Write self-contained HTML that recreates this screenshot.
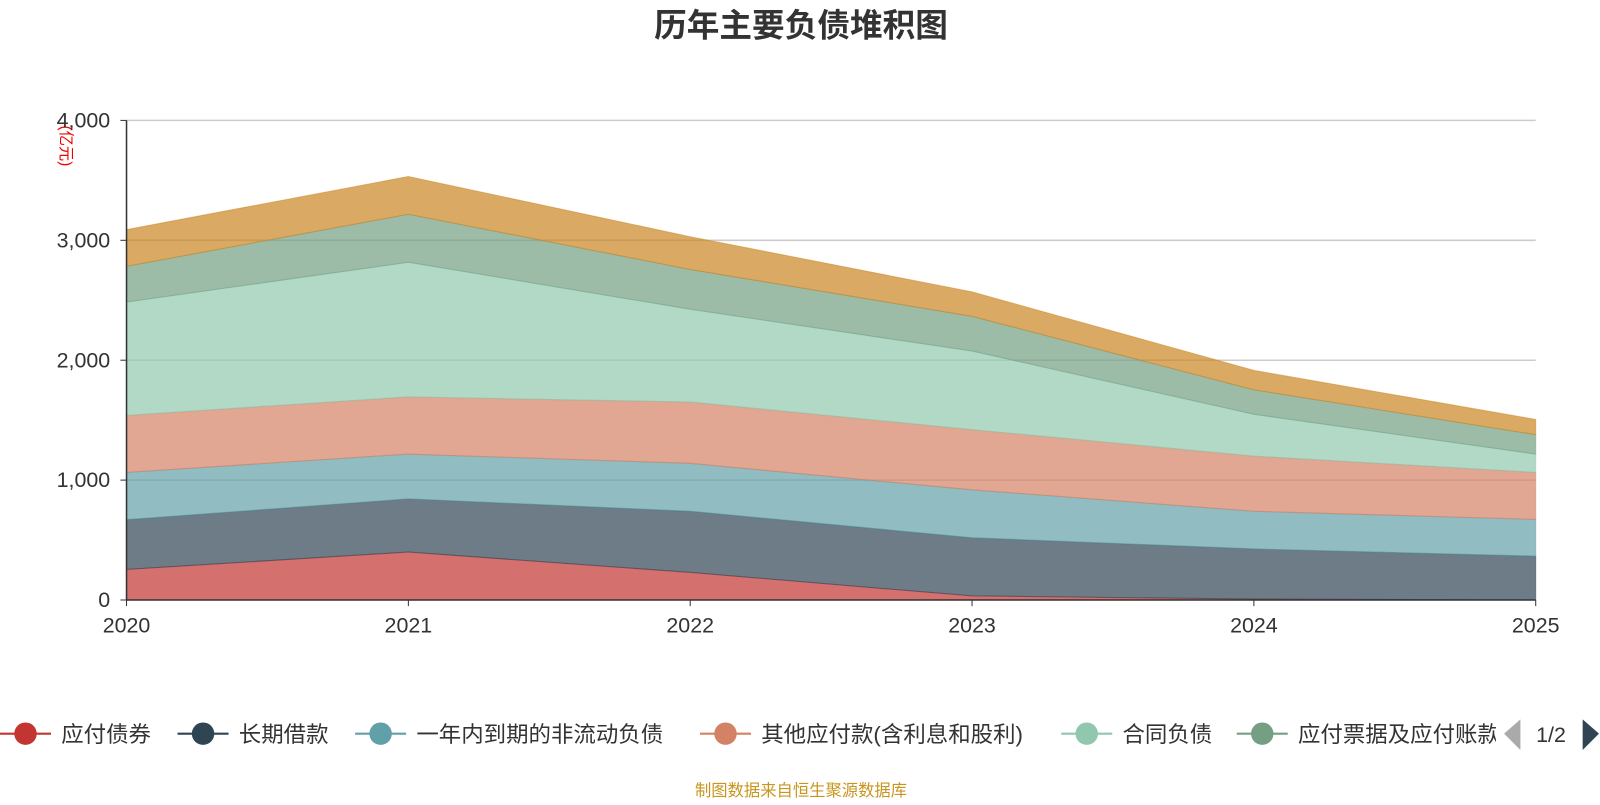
<!DOCTYPE html>
<html><head><meta charset="utf-8"><style>
body{margin:0;background:#fff;}
svg text{font-family:"Liberation Sans","Noto Sans CJK SC",sans-serif;}
</style></head><body>
<svg id="chart" width="1600" height="800" viewBox="0 0 1568 784" xmlns="http://www.w3.org/2000/svg">
<text x="785" y="36" text-anchor="middle" font-size="32" font-weight="bold" fill="#333">历年主要负债堆积图</text>
<text transform="translate(60,143) rotate(90)" text-anchor="middle" font-size="15" fill="#e00">(亿元)</text>
<g id="grid"></g><g id="areas"></g><g id="axes"></g>
<g id="legend"></g>
<text x="785" y="780" text-anchor="middle" font-size="16" fill="#c8961e">制图数据来自恒生聚源数据库</text>
</svg>
<script>
const years = ["2020","2021","2022","2023","2024","2025"];
const seriesNames = ["应付债券","长期借款","一年内到期的非流动负债","其他应付款(含利息和股利)","合同负债","应付票据及应付账款","其他负债"];
const bonds = [255,400,230,34,8,0];
const longLoans = [415,443,510,485,418,366];
const currentNonCurrent = [394,374,400,400,314,306];
const otherPayables = [476,477,511,502,460,392];
const contractLiab = [945,1123,774,656,349,153];
const billsPayables = [298,400,332,289,204,162];
const topSeries = [306,315,273,204,162,127];
const yTicks = [0,1000,2000,3000,4000];
const yTickLabels = ["0","1,000","2,000","3,000","4,000"];
const colors = ["#c23531","#2f4554","#61a0a8","#d48265","#91c7ae","#749f83","#ca8622"];
const seriesData = [bonds,longLoans,currentNonCurrent,otherPayables,contractLiab,billsPayables,topSeries];
const X0=124,X1=1505,Y0=588,Y1=118,YMAX=4000;
const xs=i=>X0+(X1-X0)*i/(years.length-1);
const ys=v=>Y0-(Y0-Y1)*v/YMAX;
const NS="http://www.w3.org/2000/svg";
function mk(tag,attrs,parent){const e=document.createElementNS(NS,tag);for(const k in attrs)e.setAttribute(k,attrs[k]);parent.appendChild(e);return e;}
const grid=document.getElementById('grid'),areas=document.getElementById('areas'),axes=document.getElementById('axes'),legend=document.getElementById('legend');
yTicks.forEach((t,i)=>{
  if(t>0){const l=mk('line',{x1:X0,x2:X1,y1:ys(t),y2:ys(t),stroke:'#ccc','stroke-width':1.5},grid);
  
  }
  const tk=mk('line',{x1:X0-6,x2:X0,y1:ys(t),y2:ys(t),stroke:'#333'},axes);
  
  
  const tx=mk('text',{x:X0-16,y:ys(t)+7,'text-anchor':'end','font-size':21,fill:'#333'},axes);
  tx.textContent=yTickLabels[i];
  
  
});
let base=years.map(()=>0);
seriesData.forEach((s,k)=>{
  const top=base.map((b,i)=>b+s[i]);
  let d='M'+top.map((v,i)=>xs(i)+','+ys(v)).join(' L');
  for(let i=years.length-1;i>=0;i--)d+=' L'+xs(i)+','+ys(base[i]);
  const p=mk('path',{d:d+'Z',fill:colors[k],'fill-opacity':0.7,stroke:colors[k],'stroke-opacity':0.5,'stroke-width':1},areas);
  
  
  base=top;
});
const ax=mk('line',{x1:X0,x2:X1,y1:Y0,y2:Y0,stroke:'#333','stroke-width':1.5},axes);


const ay=mk('line',{x1:X0,x2:X0,y1:Y0,y2:Y1,stroke:'#333','stroke-width':1.5},axes);


years.forEach((y,i)=>{
  const tk=mk('line',{x1:xs(i),x2:xs(i),y1:Y0,y2:Y0+6,stroke:'#333'},axes);
  
  
  const tx=mk('text',{x:xs(i),y:620,'text-anchor':'middle','font-size':21,fill:'#333'},axes);
  tx.textContent=y;
  
  
});
const legX=[0,174,348,686,1040,1212];
const clip=mk('clipPath',{id:'lc'},legend);mk('rect',{x:0,y:690,width:1466,height:60},clip);
legend.setAttribute('clip-path','url(#lc)');
legX.forEach((x,k)=>{
  const g=mk('g',{},legend);
  
  
  mk('line',{x1:x,x2:x+50,y1:719,y2:719,stroke:colors[k],'stroke-width':2},g);
  mk('circle',{cx:x+25,cy:719,r:11,fill:colors[k]},g);
  const t=mk('text',{x:x+60,y:727,'font-size':22,fill:'#333'},g);
  t.textContent=seriesNames[k];
});
const nav=document.getElementById('chart');
const pl=mk('path',{d:'M1490,705 L1474,719 L1490,735 Z',fill:'#aaa'},nav);


const pt=mk('text',{x:1520,y:727,'text-anchor':'middle','font-size':21,fill:'#333'},nav);
pt.textContent='1/2';


const pn=mk('path',{d:'M1551,705 L1567,719 L1551,735 Z',fill:'#2f4554'},nav);


</script>
</body></html>
